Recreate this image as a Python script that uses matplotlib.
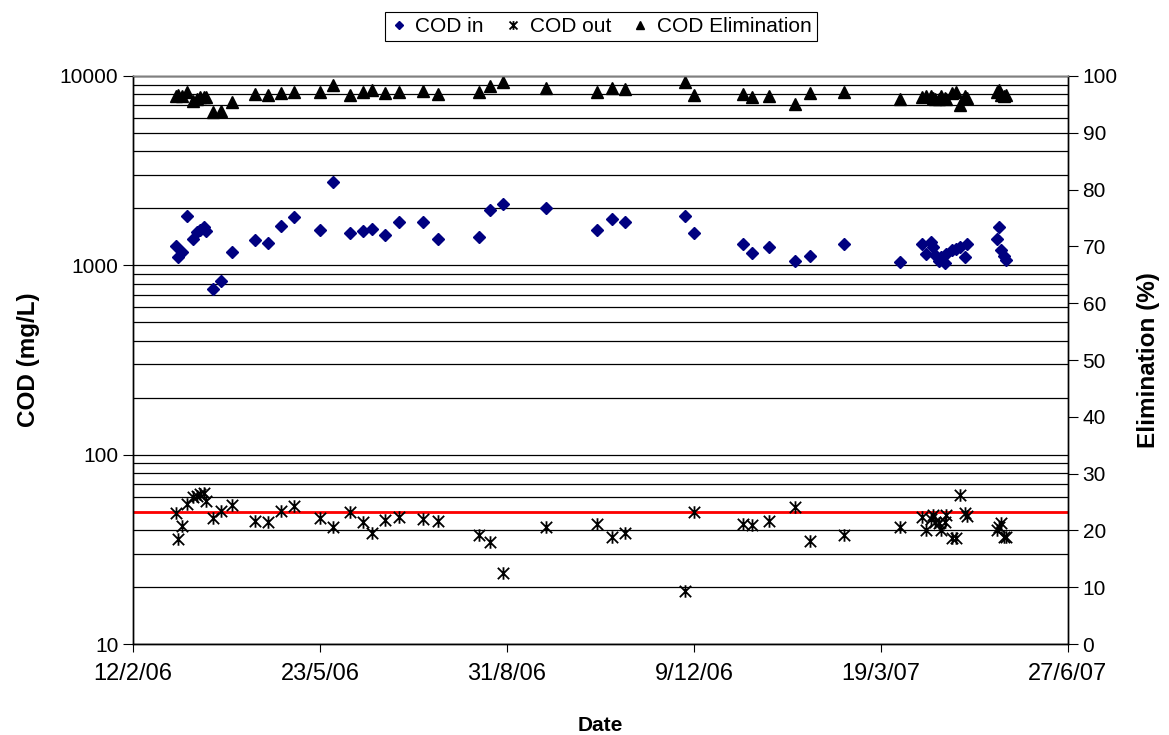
import datetime as dt
import matplotlib
matplotlib.use("Agg")
import matplotlib.pyplot as plt
import matplotlib.dates as mdates
from matplotlib.path import Path
from matplotlib.ticker import FixedLocator, FuncFormatter, NullFormatter

plt.rcParams['font.family'] = ['Liberation Sans', 'DejaVu Sans']

# Sampling days, counted from 12/2/06
start = dt.datetime(2006, 2, 12)
sample_day = [23, 24, 26, 29, 32, 34, 36, 38, 39, 43, 47, 53,
              65, 72, 79, 86, 100, 107, 116, 123, 128, 135, 142, 155, 163,
              185, 191, 198, 221, 248, 256, 263, 295, 300,
              326, 331, 340, 354, 362, 380, 410,
              422, 424, 427, 428, 429, 431, 432, 434, 435, 438, 440, 442, 445, 446,
              462, 463, 464, 466, 467]

cod_in = [1260, 1100, 1170, 1815, 1370, 1500, 1530, 1590, 1510, 750, 825, 1170,
          1365, 1305, 1615, 1810, 1545, 2745, 1480, 1510, 1565, 1440, 1700, 1695, 1370,
          1410, 1950, 2100, 2005, 1545, 1765, 1700, 1830, 1475,
          1295, 1160, 1250, 1055, 1115, 1290, 1040,
          1300, 1150, 1330, 1250, 1130, 1055, 1105, 1030, 1150, 1200, 1225, 1250, 1105, 1290,
          1385, 1595, 1210, 1115, 1070]

cod_out = [49, 36, 42, 55, 60, 60.5, 62, 63, 57, 46.5, 50.5, 54,
           44.7, 44.3, 50.5, 53.5, 46.5, 41.4, 50, 44.3, 38.7, 45.2, 47, 46, 44.7,
           37.7, 34.7, 23.8, 41.4, 43, 36.9, 38.7, 19.1, 50,
           43, 42.5, 44.8, 52.7, 35, 37.7, 41.4,
           47, 40, 46, 48, 44.3, 43.4, 40, 44.3, 48, 36.2, 36.2, 61.2, 49, 47.6,
           40, 41.7, 43.4, 36.9, 36.6]

elimination = [96.4, 96.65, 96.5, 97.1, 95.65, 96.0, 96.25, 96.3, 96.35, 93.7, 93.9, 95.5,
               96.8, 96.65, 96.95, 97.1, 97.1, 98.5, 96.65, 97.1, 97.5, 96.95, 97.2, 97.4, 96.8,
               97.2, 98.2, 98.9, 97.9, 97.2, 97.9, 97.65, 99.0, 96.65,
               96.8, 96.35, 96.5, 95.1, 96.95, 97.1, 95.95,
               96.3, 96.5, 96.4, 96.2, 96.0, 95.95, 96.4, 96.1, 96.0, 96.95, 97.1, 94.9, 96.4, 96.1,
               97.1, 97.5, 96.7, 96.4, 96.6]

cod_limit = 50
tick_step_days = 100

dates = [start + dt.timedelta(days=d) for d in sample_day]

# Excel-style asterisk marker (x with a vertical bar)
star = Path([(-1, -1), (1, 1), (-1, 1), (1, -1), (0, -1.1), (0, 1.1)],
            [Path.MOVETO, Path.LINETO, Path.MOVETO, Path.LINETO, Path.MOVETO, Path.LINETO])

fig = plt.figure(figsize=(11.69, 7.35), dpi=100, facecolor='white')
ax = fig.add_axes([0.1138, 0.1238, 0.7998, 0.7728])
ax2 = ax.twinx()

ax.set_yscale('log')
ax.set_ylim(10, 10000)
end = start + dt.timedelta(days=5 * tick_step_days)
ax.set_xlim(start, end)

# grid on every log step
ax.yaxis.set_minor_locator(FixedLocator([m * 10 ** e for e in range(1, 4) for m in range(2, 10)]))
ax.yaxis.set_minor_formatter(NullFormatter())
ax.yaxis.set_major_locator(FixedLocator([10, 100, 1000, 10000]))
ax.yaxis.set_major_formatter(FuncFormatter(lambda v, p: f'{int(v)}'))
ax.grid(True, axis='y', which='both', color='black', linewidth=0.9)
ax.set_axisbelow(True)
ax.tick_params(axis='y', which='minor', length=0)
ax.tick_params(axis='y', which='major', length=7, direction='out', labelsize=15)

ticks = [start + dt.timedelta(days=tick_step_days * i) for i in range(6)]
ax.set_xticks(ticks)
ax.xaxis.set_major_formatter(FuncFormatter(
    lambda v, p: (lambda d: f'{d.day}/{d.month}/{d.strftime("%y")}')(mdates.num2date(v))))
ax.tick_params(axis='x', length=6, direction='out', labelsize=17, pad=8)

ax.axhline(cod_limit, color='#ff0000', linewidth=2, zorder=2)

h_in, = ax.plot(dates, cod_in, linestyle='none', marker='D', markersize=6.5,
                color='#000080', label='COD in', zorder=3)
h_out, = ax.plot(dates, cod_out, linestyle='none', marker=star, markersize=9,
                 markerfacecolor='none', markeredgecolor='black', markeredgewidth=1.3,
                 label='COD out', zorder=3)

h_el, = ax2.plot(dates, elimination, linestyle='none', marker='^', markersize=8.5,
                 color='black', label='COD Elimination')
ax2.set_ylim(0, 100)
ax2.set_yticks(range(0, 101, 10))
ax2.tick_params(axis='y', length=7, direction='out', labelsize=15)

for a in (ax, ax2):
    for s in a.spines.values():
        s.set_color('black')
        s.set_linewidth(1.0)
ax2.spines['top'].set_color('#808080')

ax.set_ylabel('COD (mg/L)', fontsize=17.5, fontweight='bold', labelpad=14)
ax2.set_ylabel('Elimination (%)', fontsize=17.5, fontweight='bold', labelpad=14)
ax.set_xlabel('Date', fontsize=15, fontweight='bold', labelpad=22)

leg = fig.legend(handles=[h_in, h_out, h_el], loc='upper center', bbox_to_anchor=(0.514, 0.998),
                 ncol=3, fontsize=15, frameon=True, fancybox=False, framealpha=1,
                 edgecolor='black', handlelength=0.8, handletextpad=0.4, columnspacing=1.0,
                 borderpad=0.25, markerscale=0.7)
leg.get_frame().set_linewidth(0.8)

fig.savefig('out.png', dpi=100, facecolor='white')
